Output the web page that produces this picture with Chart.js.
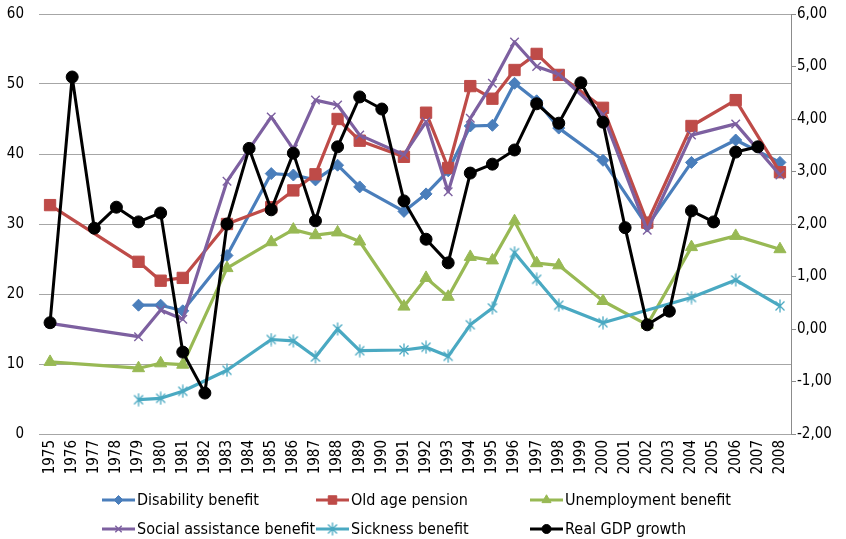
<!DOCTYPE html>
<html>
<head>
<meta charset="utf-8">
<script src="https://cdn.jsdelivr.net/npm/chart.js@4.4.1/dist/chart.umd.min.js"></script>
<style>
  html, body { margin: 0; padding: 0; background: #fff; }
  #wrap { position: relative; width: 846px; height: 539px; }
  #legend {
    position: absolute; left: 102px; top: 485px;
    display: grid; grid-template-columns: 214px 214px 214px; grid-auto-rows: 29px;
    font: 16px "DejaVu Sans Condensed", "DejaVu Sans", sans-serif; color: #000;
  }
  .lg-item { display: flex; align-items: center; white-space: nowrap; }
  .lg-item canvas { margin-right: 2px; }
</style>
</head>
<body>
<div id="wrap">
  <canvas id="chart" width="846" height="539"></canvas>
  <div id="legend"></div>
</div>
<script>
const FONT = '"DejaVu Sans Condensed", "DejaVu Sans", sans-serif'

const years = ['1975', '1976', '1977', '1978', '1979', '1980', '1981', '1982', '1983', '1984',
  '1985', '1986', '1987', '1988', '1989', '1990', '1991', '1992', '1993', '1994',
  '1995', '1996', '1997', '1998', '1999', '2000', '2001', '2002', '2003', '2004',
  '2005', '2006', '2007', '2008']

// benefit series, left axis
const disability   = [null, null, null, null, 18.4, 18.4, 17.6, null, 25.5, null, 37.2, 37.0, 36.3, 38.4, 35.3, null, 31.8, 34.3, 37.6, 44.0, 44.1, 50.1, 47.6, 43.7, null, 39.1, null, 29.7, null, 38.8, null, 42.0, null, 38.8]
const oldAge       = [32.7, null, null, null, 24.6, 21.9, 22.3, null, 30.0, null, 32.4, 34.8, 37.1, 45.0, 41.9, null, 39.6, 45.9, 38.0, 49.7, 47.9, 52.0, 54.3, 51.3, null, 46.6, null, 30.2, null, 44.0, null, 47.7, null, 37.4]
const unemployment = [10.3, null, null, null, 9.4, 10.1, 9.9, null, 23.7, null, 27.4, 29.2, 28.4, 28.8, 27.5, null, 18.2, 22.3, 19.6, 25.3, 24.8, 30.4, 24.4, 24.1, null, 19.0, null, 15.6, null, 26.7, null, 28.3, null, 26.4]
const social       = [15.8, null, null, null, 13.9, 17.7, 16.4, null, 36.1, null, 45.3, 40.7, 47.7, 47.0, 42.7, null, 39.9, 44.6, 34.6, 45.1, 50.1, 56.0, 52.5, 51.4, null, 45.6, null, 29.1, null, 42.7, null, 44.3, null, 37.0]
const sickness     = [null, null, null, null, 4.9, 5.1, 6.1, null, 9.1, null, 13.5, 13.3, 11.0, 15.0, 11.9, null, 12.0, 12.4, 11.1, 15.6, 18.0, 25.9, 22.1, 18.4, null, 15.9, null, null, null, 19.5, null, 22.0, null, 18.3]

// right axis
const gdpGrowth    = [0.12, 4.80, 1.92, 2.32, 2.04, 2.21, -0.44, -1.22, 2.00, 3.44, 2.27, 3.35, 2.06, 3.47, 4.42, 4.19, 2.44, 1.71, 1.26, 2.97, 3.14, 3.41, 4.29, 3.92, 4.69, 3.94, 1.93, 0.08, 0.34, 2.25, 2.04, 3.37, 3.47, null]

// asterisk marker (x with a vertical bar)
function asterisk(color, size) {
  const c = document.createElement('canvas')
  c.width = size; c.height = size
  const g = c.getContext('2d')
  const m = 1.5, h = size / 2
  g.strokeStyle = color
  g.lineWidth = 1.3
  g.beginPath()
  g.moveTo(m + 1, m + 1); g.lineTo(size - m - 1, size - m - 1)
  g.moveTo(size - m - 1, m + 1); g.lineTo(m + 1, size - m - 1)
  g.moveTo(h, 0.5); g.lineTo(h, size - 0.5)
  g.stroke()
  return c
}

const series = (label, data, color, style, radius, extra) => Object.assign({
  label, data,
  borderColor: color,
  backgroundColor: color,
  pointBackgroundColor: color,
  pointBorderColor: color,
  borderWidth: 3.2,
  borderJoinStyle: 'round',
  pointStyle: style,
  pointRadius: radius,
  pointBorderWidth: 1,
  spanGaps: true,
  tension: 0,
  yAxisID: 'y',
}, extra)

const datasets = [
  series('Disability benefit', disability, '#4a7ebb', 'rectRot', 6, { order: 5 }),
  series('Old age pension', oldAge, '#be4b48', 'rect', 8, { order: 4 }),
  series('Unemployment benefit', unemployment, '#98b954', 'triangle', 7, { order: 3 }),
  series('Social assistance benefit', social, '#7d60a0', 'crossRot', 6, { order: 2, pointBorderWidth: 1.4 }),
  series('Sickness benefit', sickness, '#4aa9c2', asterisk('#4aa9c2', 14), 7, { order: 1 }),
  series('Real GDP growth', gdpGrowth, '#000000', 'circle', 6, { order: 0, yAxisID: 'y2', borderWidth: 3 }),
]

const tickFont = { family: FONT, size: 15 }

// labels may hang over the plot edges; keep the plot box fixed
const noEdgePad = s => { s.paddingTop = 0; s.paddingBottom = 0 }

const chart = new Chart(document.getElementById('chart'), {
  type: 'line',
  data: { labels: years, datasets },
  options: {
    responsive: false,
    animation: false,
    layout: { padding: { top: 14, bottom: 59, left: 0, right: 0 } },
    plugins: { legend: { display: false }, tooltip: { enabled: false } },
    scales: {
      x: {
        offset: true,
        grid: { display: false, drawTicks: false },
        border: { display: false },
        ticks: { autoSkip: false, maxRotation: 90, minRotation: 90, padding: 6, color: '#000', font: tickFont },
        afterFit: s => { s.height = 46; s.paddingLeft = 0; s.paddingRight = 0 },
      },
      y: {
        position: 'left', min: 0, max: 60,
        grid: { color: '#a6a6a6', drawTicks: false },
        border: { display: false },
        ticks: { stepSize: 10, padding: 15, color: '#000', font: tickFont },
        afterFit: s => { s.width = 39; noEdgePad(s) },
      },
      y2: {
        position: 'right', min: -2, max: 6,
        grid: { drawOnChartArea: false, tickLength: 5, color: '#8c8c8c' },
        border: { display: true, color: '#8c8c8c' },
        ticks: { stepSize: 1, padding: 1, color: '#000', font: tickFont,
                 callback: v => v.toFixed(2).replace('.', ',') },
        afterFit: s => { s.width = 55; noEdgePad(s) },
      },
    },
  },
})

// legend: line sample with the series marker, three columns
const legendEl = document.getElementById('legend')
chart.data.datasets.forEach(ds => {
  const item = document.createElement('div')
  item.className = 'lg-item'
  const c = document.createElement('canvas')
  c.width = 33; c.height = 20
  const g = c.getContext('2d')
  g.strokeStyle = ds.borderColor
  g.lineWidth = 3
  g.beginPath(); g.moveTo(0, 10); g.lineTo(33, 10); g.stroke()
  g.fillStyle = ds.pointBackgroundColor
  g.strokeStyle = ds.pointBorderColor
  g.lineWidth = ds.pointBorderWidth
  Chart.helpers.drawPoint(g, {
    pointStyle: ds.pointStyle,
    radius: typeof ds.pointStyle === 'string' ? ds.pointRadius * 0.75 : ds.pointRadius,
    rotation: 0,
    borderWidth: ds.pointBorderWidth,
  }, 16.5, 10)
  const span = document.createElement('span')
  span.textContent = ds.label
  item.appendChild(c)
  item.appendChild(span)
  legendEl.appendChild(item)
})
</script>
</body>
</html>
